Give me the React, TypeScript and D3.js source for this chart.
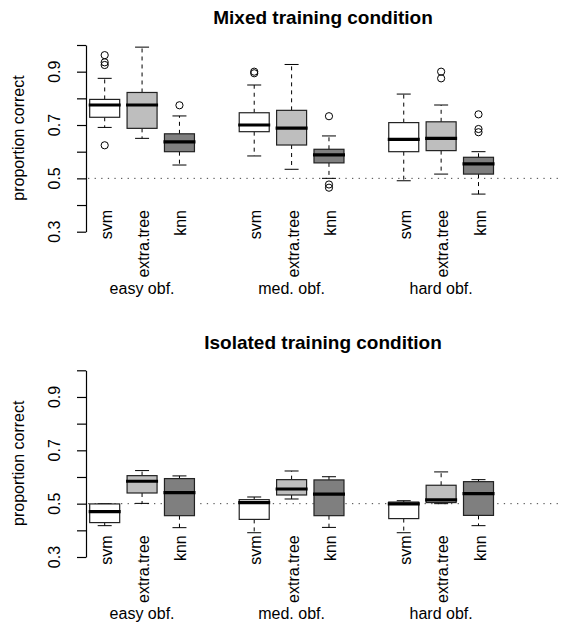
import { useEffect, useRef } from "react";
import * as d3 from "d3";

const classifiers = ["svm", "extra.tree", "knn"];
const difficulties = ["easy obf.", "med. obf.", "hard obf."];
const positions = [1, 2, 3, 5, 6, 7, 9, 10, 11];
const fills = ["#ffffff", "#bebebe", "#7f7f7f"];
const yTicks = [0.3, 0.4, 0.5, 0.6, 0.7, 0.8, 0.9, 1.0];
const yTickLabels = [0.3, 0.5, 0.7, 0.9];

// [lower whisker, q1, median, q3, upper whisker], order: easy svm/et/knn, med ..., hard ...
const mixedStats = [
  [0.691, 0.729, 0.775, 0.796, 0.875],
  [0.65, 0.6875, 0.775, 0.822, 0.992],
  [0.55, 0.6, 0.637, 0.667, 0.734],
  [0.584, 0.675, 0.7, 0.746, 0.85],
  [0.534, 0.625, 0.688, 0.755, 0.927],
  [0.5, 0.558, 0.588, 0.609, 0.659],
  [0.491, 0.6, 0.646, 0.709, 0.816],
  [0.516, 0.604, 0.65, 0.712, 0.775],
  [0.441, 0.516, 0.554, 0.579, 0.6],
];
const mixedOutliers = [
  [0.624, 0.925, 0.935, 0.962],
  [],
  [0.774],
  [0.894, 0.9],
  [],
  [0.733, 0.477, 0.465],
  [],
  [0.875, 0.9],
  [0.74, 0.685, 0.673],
];

const isolatedStats = [
  [0.4175, 0.429, 0.47, 0.499, 0.5],
  [0.501, 0.54, 0.584, 0.605, 0.624],
  [0.41, 0.455, 0.541, 0.594, 0.604],
  [0.391, 0.441, 0.504, 0.515, 0.525],
  [0.5175, 0.5325, 0.555, 0.59, 0.6225],
  [0.411, 0.455, 0.536, 0.589, 0.601],
  [0.391, 0.444, 0.499, 0.506, 0.511],
  [0.5, 0.504, 0.514, 0.569, 0.619],
  [0.4175, 0.456, 0.5375, 0.5825, 0.59],
];
const isolatedOutliers = [[], [], [], [], [], [], [], [], []];

const FONT = "'Liberation Sans', Arial, Helvetica, sans-serif";

export default function App() {
  const svgRef = useRef<SVGSVGElement>(null);

  useEffect(() => {
    if (!svgRef.current) return;
    const svg = d3.select(svgRef.current);
    svg.selectAll("*").remove();

    const panels = [
      { title: "Mixed training condition", stats: mixedStats, outliers: mixedOutliers, dy: 0 },
      { title: "Isolated training condition", stats: isolatedStats, outliers: isolatedOutliers, dy: 325.3 },
    ];

    const x = d3.scaleLinear().domain([0.5, 13.18]).range([86, 560]);
    const boxW = 30;
    const capW = 14;

    panels.forEach((p) => {
      const y = d3.scaleLinear().domain([0.3, 1.0]).range([231.7, 45]);
      const g = svg.append("g").attr("transform", "translate(0," + p.dy + ")");

      // title
      g.append("text")
        .attr("x", (x.range()[0] + x.range()[1]) / 2)
        .attr("y", 24)
        .attr("text-anchor", "middle")
        .attr("font-family", FONT)
        .attr("font-weight", "bold")
        .attr("font-size", 19)
        .text(p.title);

      // reference line at 0.5
      g.append("line")
        .attr("x1", x.range()[0] + 2)
        .attr("x2", x.range()[1])
        .attr("y1", y(0.5))
        .attr("y2", y(0.5))
        .attr("stroke", "#444")
        .attr("stroke-width", 1)
        .attr("stroke-dasharray", "1.3 5.3");

      // y axis
      const axis = g.append("g").attr("transform", "translate(" + x.range()[0] + ",0)");
      axis.call(
        d3.axisLeft(y).tickValues(yTicks).tickSize(9).tickSizeOuter(0).tickFormat(() => "")
      );
      axis.select(".domain").attr("stroke", "#000").attr("stroke-width", 1.2);
      axis.selectAll(".tick line").attr("stroke", "#000").attr("stroke-width", 1.2);

      yTickLabels.forEach((v) => {
        g.append("text")
          .attr("transform", "translate(54," + y(v) + ") rotate(-90)")
          .attr("text-anchor", "middle")
          .attr("dominant-baseline", "central")
          .attr("font-family", FONT)
          .attr("font-size", 16)
          .text(d3.format(".1f")(v));
      });

      g.append("text")
        .attr("transform", "translate(18,138) rotate(-90)")
        .attr("text-anchor", "middle")
        .attr("dominant-baseline", "central")
        .attr("font-family", FONT)
        .attr("font-size", 16)
        .text("proportion correct");

      // boxes
      p.stats.forEach((s, i) => {
        const cx = x(positions[i]);
        const fill = fills[i % 3];
        const [lo, q1, med, q3, hi] = s;

        const wh = g.append("g").attr("stroke", "#000").attr("stroke-width", 1);
        wh.append("line")
          .attr("x1", cx).attr("x2", cx)
          .attr("y1", y(q3)).attr("y2", y(hi))
          .attr("stroke-dasharray", "4 4");
        wh.append("line")
          .attr("x1", cx).attr("x2", cx)
          .attr("y1", y(q1)).attr("y2", y(lo))
          .attr("stroke-dasharray", "4 4");
        wh.append("line")
          .attr("x1", cx - capW / 2).attr("x2", cx + capW / 2)
          .attr("y1", y(hi)).attr("y2", y(hi));
        wh.append("line")
          .attr("x1", cx - capW / 2).attr("x2", cx + capW / 2)
          .attr("y1", y(lo)).attr("y2", y(lo));

        g.append("rect")
          .attr("x", cx - boxW / 2)
          .attr("y", y(q3))
          .attr("width", boxW)
          .attr("height", y(q1) - y(q3))
          .attr("fill", fill)
          .attr("stroke", "#222")
          .attr("stroke-width", 1.2);

        g.append("line")
          .attr("x1", cx - boxW / 2 - 1).attr("x2", cx + boxW / 2 + 1)
          .attr("y1", y(med)).attr("y2", y(med))
          .attr("stroke", "#000")
          .attr("stroke-width", 3.2);

        p.outliers[i].forEach((o) => {
          g.append("circle")
            .attr("cx", cx)
            .attr("cy", y(o))
            .attr("r", 3.6)
            .attr("fill", "none")
            .attr("stroke", "#000")
            .attr("stroke-width", 1);
        });

        // category label
        g.append("text")
          .attr("transform", "translate(" + (cx + 1.5) + ",210) rotate(-90)")
          .attr("text-anchor", "end")
          .attr("dominant-baseline", "central")
          .attr("font-family", FONT)
          .attr("font-size", 16)
          .text(classifiers[i % 3]);
      });

      difficulties.forEach((d, j) => {
        g.append("text")
          .attr("x", x(positions[j * 3 + 1]))
          .attr("y", 294)
          .attr("text-anchor", "middle")
          .attr("font-family", FONT)
          .attr("font-size", 16)
          .text(d);
      });
    });
  }, []);

  return (
    <svg
      ref={svgRef}
      width="568"
      height="626"
      style={{ position: "absolute", left: 0, top: 0, background: "#fff" }}
    />
  );
}
